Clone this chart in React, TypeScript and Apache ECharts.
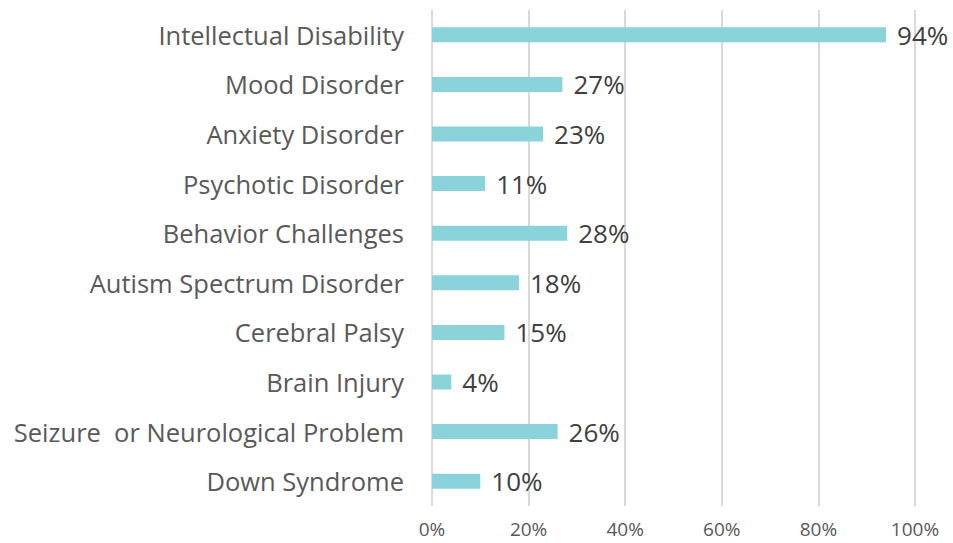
import React, { useEffect, useRef } from "react";
import * as echarts from "echarts";

const categories = [
  "Intellectual Disability",
  "Mood Disorder",
  "Anxiety Disorder",
  "Psychotic Disorder",
  "Behavior Challenges",
  "Autism Spectrum Disorder",
  "Cerebral Palsy",
  "Brain Injury",
  "Seizure  or Neurological Problem",
  "Down Syndrome",
];
const values = [94, 27, 23, 11, 28, 18, 15, 4, 26, 10];

const FONT = "'Open Sans', 'Noto Sans', sans-serif";

export default function App() {
  const ref = useRef<HTMLDivElement>(null);
  useEffect(() => {
    if (!ref.current) return;
    const chart = echarts.init(ref.current, undefined, { renderer: "svg" });
    chart.setOption({
      animation: false,
      grid: { left: 432, right: 38, top: 10, bottom: 37, containLabel: false },
      xAxis: {
        type: "value",
        min: 0,
        max: 100,
        interval: 20,
        axisLine: { show: false },
        axisTick: { show: false },
        splitLine: { show: true, lineStyle: { color: "#D9D9D9", width: 2 } },
        axisLabel: {
          formatter: "{value}%",
          color: "#595959",
          fontFamily: FONT,
          fontSize: 19,
          lineHeight: 19,
          margin: 13,
        },
      },
      yAxis: {
        type: "category",
        inverse: true,
        data: categories,
        axisLine: { show: false },
        axisTick: { show: false },
        axisLabel: {
          color: "#595959",
          fontFamily: FONT,
          fontSize: 25.5,
          margin: 28,
        },
      },
      series: [
        {
          type: "bar",
          data: values,
          barWidth: 15,
          itemStyle: { color: "#8AD3DB" },
          label: {
            show: true,
            position: "right",
            distance: 11,
            formatter: "{c}%",
            color: "#404040",
            fontFamily: FONT,
            fontSize: 26,
          },
        },
      ],
    });
    return () => chart.dispose();
  }, []);
  return (
    <div
      ref={ref}
      style={{ position: "fixed", left: 0, top: 0, width: 953, height: 543, background: "#fff" }}
    />
  );
}
